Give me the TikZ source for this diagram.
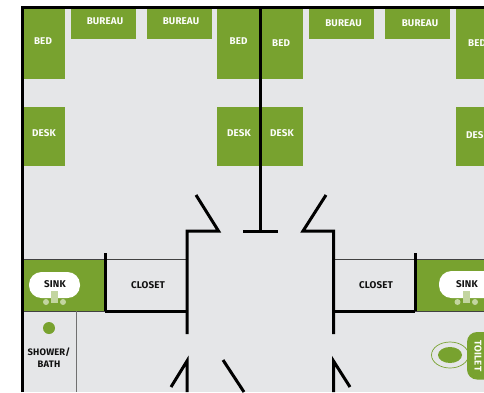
\documentclass[tikz,border=0pt]{standalone}
\usepackage{fontspec}
\setmainfont{Fira Sans}[LetterSpace=1.5]
\definecolor{grn}{HTML}{78A22F}
\definecolor{lgrn}{HTML}{C3D5A0}
\definecolor{flr}{HTML}{E5E6E8}
\definecolor{ink}{HTML}{111111}
\tikzset{
  x=1pt,y=-1pt,
  furn/.style={fill=grn,draw=none},
  wall/.style={draw=black,line width=3pt,line join=miter,line cap=butt},
  thin wall/.style={draw=ink!80!white,line width=0.9pt},
  lbl/.style={font=\bfseries\fontsize{9.8}{10}\selectfont,text=ink,inner sep=0pt,align=center},
  wlbl/.style={lbl,text=white!95!lgrn},
}
\begin{document}
\begin{tikzpicture}
\path[use as bounding box,fill=white] (0,0) rectangle (484,392);
\begin{scope}
\clip (0,0) rectangle (484,392);
\fill[flr] (21,6) rectangle (484,392);
% beds, desks, bureaus
\foreach \a/\b/\c/\d in {23/65/9/79,71/136/9/39,147/212/9/39,217/259/9/79,
  23/65/107/166,217/259/107/166,
  262/303/9/79,309/374/9/39,385/450/9/39,456/484/9/79,
  262/303/107/166,456/484/107/166}
  \fill[furn] (\a,\c) rectangle (\b,\d);
% sink blocks
\fill[furn] (23,259) rectangle (105,311);
\fill[furn] (415,259) rectangle (484,311);
% thin walls
\draw[thin wall] (23,259) -- (187,259);
\draw[thin wall] (333,259) -- (484,259);
\draw[thin wall] (23,311.5) -- (105,311.5);
\draw[thin wall] (415,311.5) -- (484,311.5);
\draw[thin wall,draw=ink!60!white] (76,311) -- (76,392);
\draw[line width=0.8pt,draw=black!30!white] (259,9) -- (259,231);
% heavy walls
\draw[wall] (22,392) -- (22,7.5) -- (484,7.5);
\draw[wall] (260.5,7) -- (260.5,231);
\draw[wall] (243,231) -- (278,231);
\draw[wall] (196,195) -- (218.5,231) -- (187,231) -- (187,334);
\draw[wall] (326,195) -- (303,231) -- (333.5,231) -- (333.5,334);
\draw[wall] (105,253) -- (105,311);
\draw[wall] (415,253) -- (415,311);
\draw[wall] (105,311) -- (187,311);
\draw[wall] (333,311) -- (415,311);
\draw[wall] (171,387) -- (187,361) -- (187,392);
\draw[wall] (350,387) -- (333.5,361) -- (333.5,392);
\draw[wall] (223,360) -- (244,392);
% sinks
\fill[white,rounded corners=12.5pt] (29,272) rectangle (80,298);
\fill[white,rounded corners=12.5pt] (439,271) rectangle (510,298);
\fill[lgrn] (51,291) rectangle (58,303);
\fill[lgrn] (463,291) rectangle (470,303);
\foreach \p in {46,63,457.5,475} \fill[lgrn] (\p,302) circle[radius=3];
% shower
\fill[grn] (49,328) circle[radius=6];
% toilet
\draw[grn,line width=0.7pt,fill=flr] (450,355) ellipse[x radius=18.5,y radius=13];
\fill[grn] (450,355) ellipse[x radius=12,y radius=8];
\fill[grn,rounded corners=10pt] (467,332) rectangle (500,379.5);
% labels
\node[wlbl] (bed1) at (43,41.5) {BED};
\node[wlbl] (bureau1) at (105,21.5) {BUREAU};
\node[wlbl] (bureau2) at (181,21.5) {BUREAU};
\node[wlbl] (bed2) at (238.5,41.5) {BED};
\node[wlbl] (desk1) at (44,133.5) {DESK};
\node[wlbl] (desk2) at (239,133.5) {DESK};
\node[wlbl] (bed3) at (281,43.5) {BED};
\node[wlbl] (bureau3) at (343.5,23.5) {BUREAU};
\node[wlbl] (bureau4) at (420,23.5) {BUREAU};
\node[wlbl] (bed4) at (477,43.5) {BED};
\node[wlbl] (desk3) at (282,133.5) {DESK};
\node[wlbl] (desk4) at (478,135.5) {DESK};
\node[lbl] (sink1) at (55,284.5) {SINK};
\node[lbl] (sink2) at (467,284.5) {SINK};
\node[lbl] (closet1) at (148,285.5) {CLOSET};
\node[lbl] (closet2) at (376,285.5) {CLOSET};
\node[lbl,font=\bfseries\fontsize{9.4}{12}\selectfont] (shower) at (49,358) {SHOWER/\\BATH};
\node[wlbl,rotate=-90] (toilet) at (478,356) {TOILET};
\end{scope}
\end{tikzpicture}
\end{document}
